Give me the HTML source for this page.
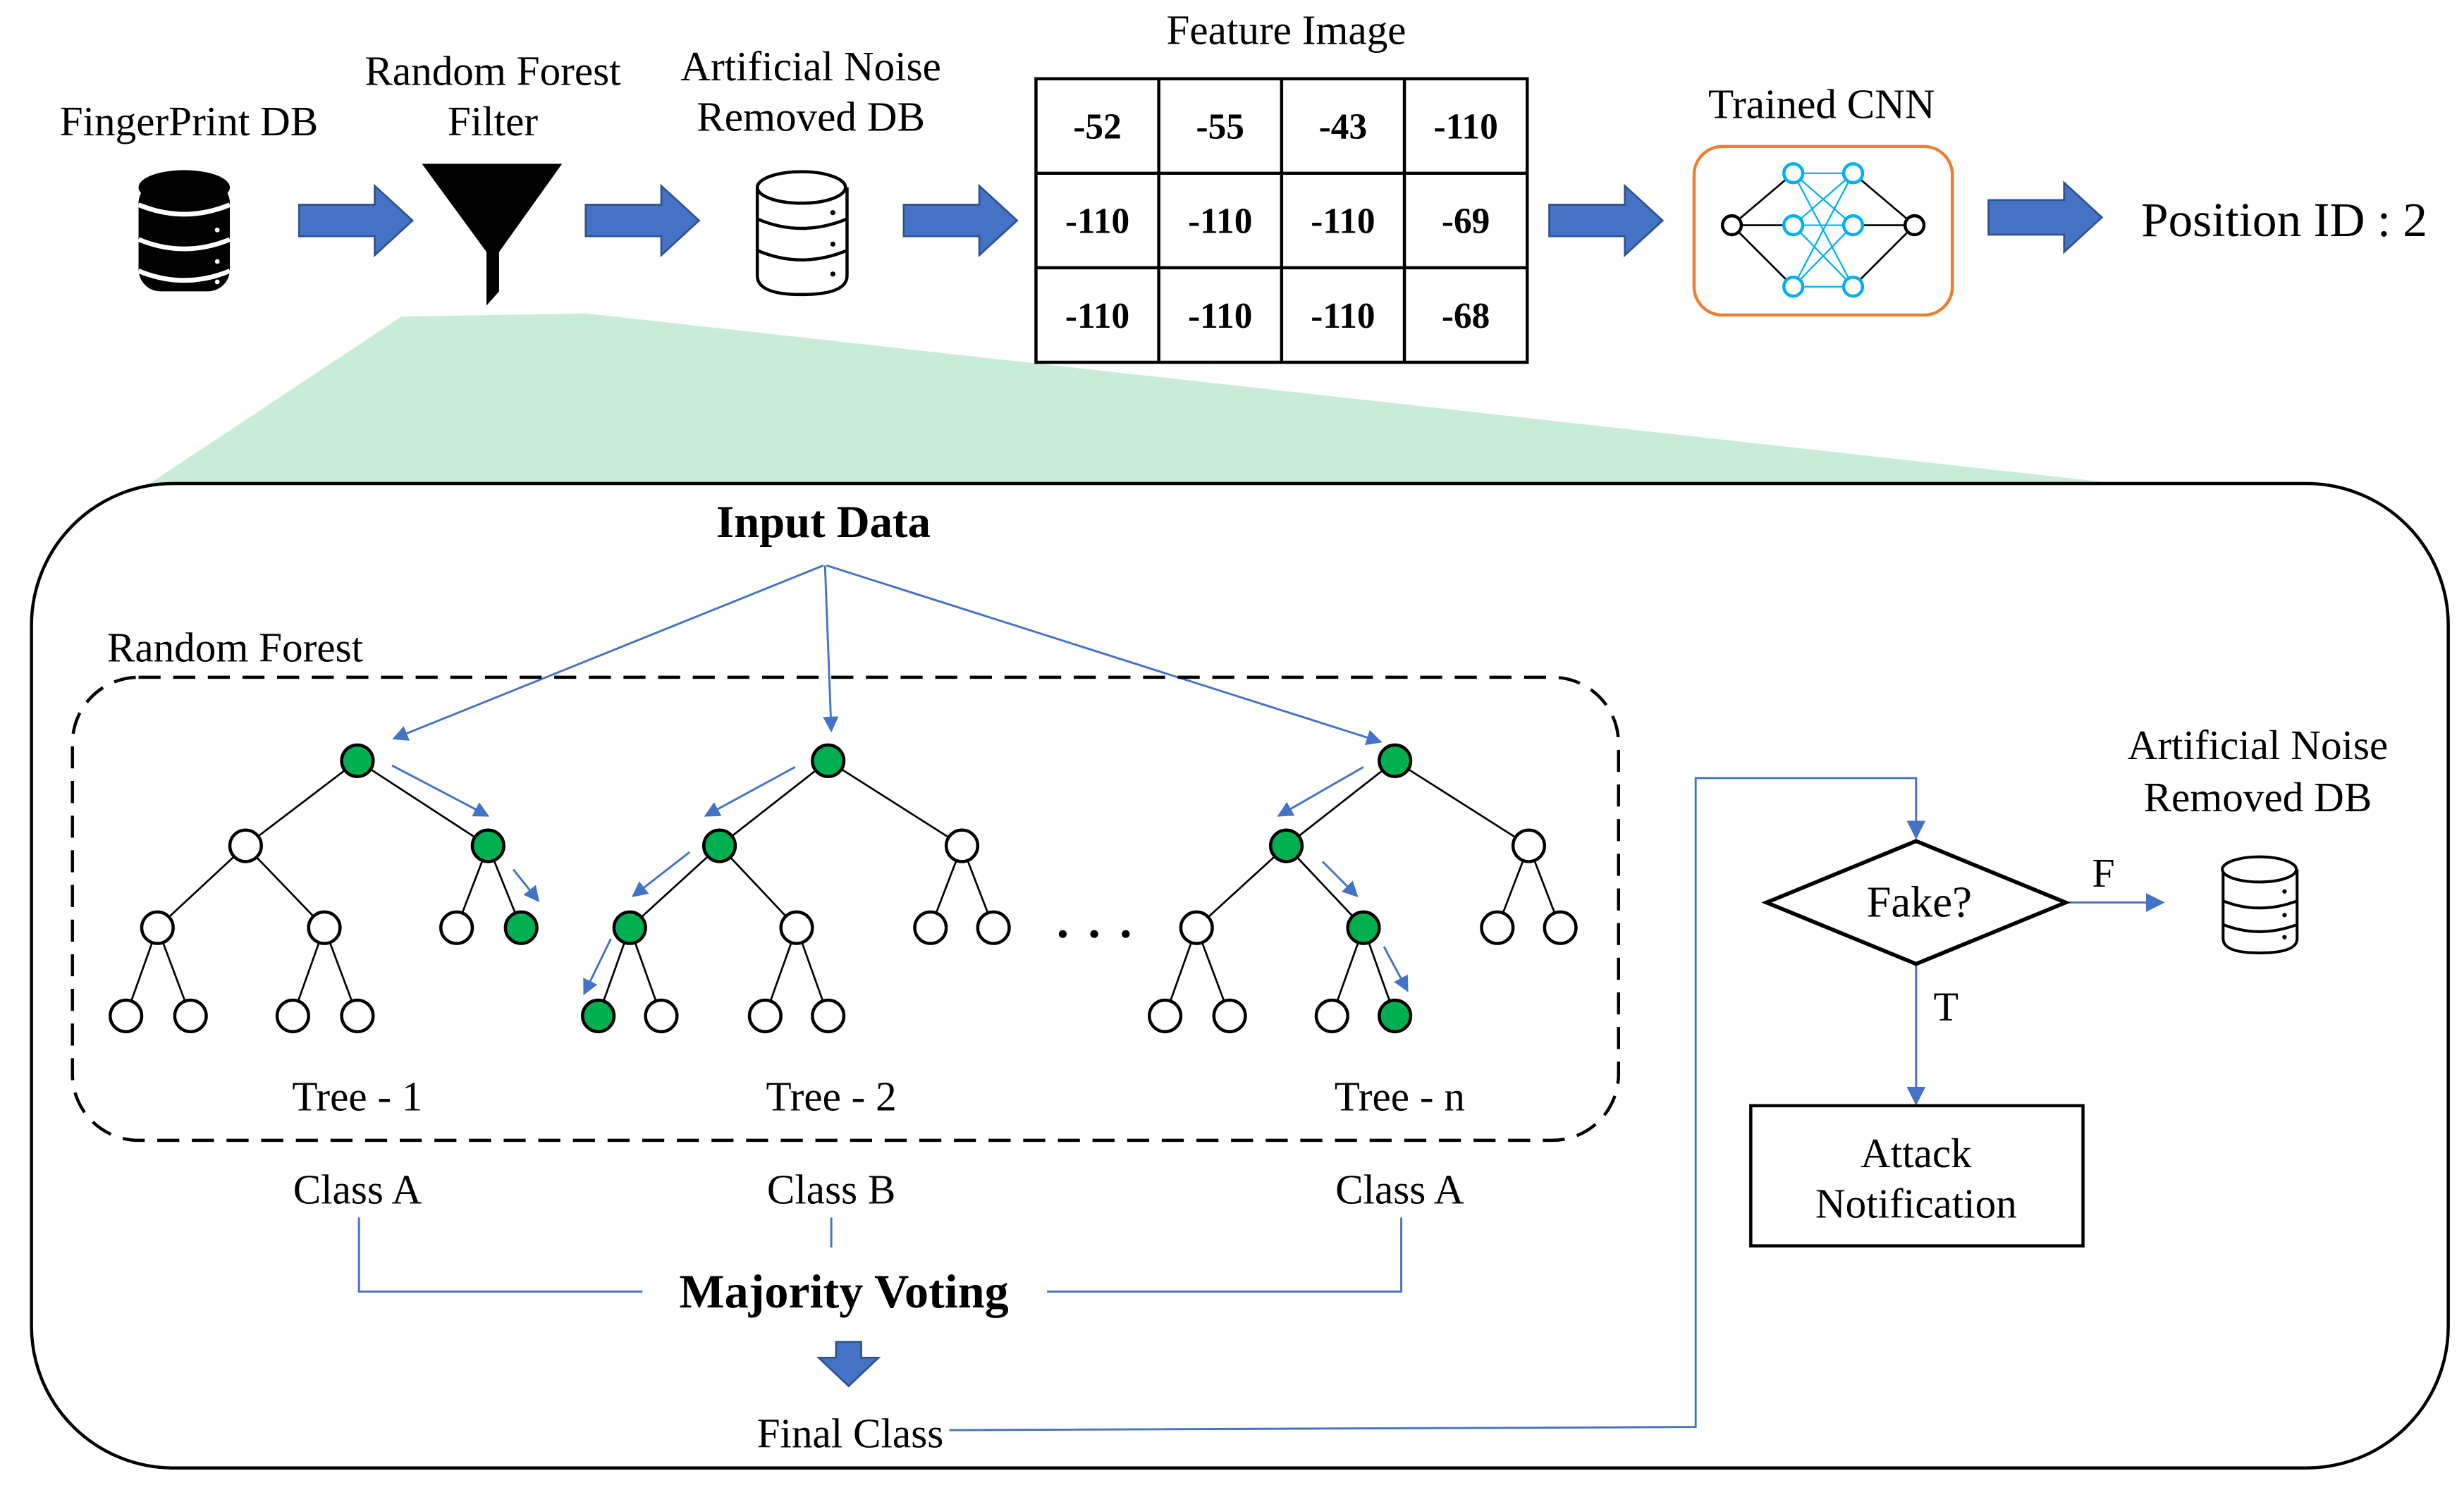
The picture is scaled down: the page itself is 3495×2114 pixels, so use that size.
<!DOCTYPE html>
<html><head><meta charset="utf-8"><style>html,body{margin:0;padding:0;background:#fff}svg{display:block}svg text{font-family:"Liberation Serif",serif}</style></head>
<body>
<svg width="3495" height="2114" viewBox="0 0 1565 946" preserveAspectRatio="none" xmlns="http://www.w3.org/2000/svg">
<defs>
<marker id="ah" markerWidth="10" markerHeight="10" refX="9" refY="5" orient="auto" markerUnits="userSpaceOnUse"><path d="M0,0 L10,5 L0,10 z" fill="#4472c4"/></marker>
<marker id="ah2" markerWidth="12" markerHeight="12" refX="11" refY="6" orient="auto" markerUnits="userSpaceOnUse"><path d="M0,0 L12,6 L0,12 z" fill="#4472c4"/></marker>
</defs>
<polygon points="255,201 372,199 1345,307 95,307" fill="#c9ecd9"/>
<rect x="20" y="307" width="1535" height="625" rx="90" fill="#fff" stroke="#000" stroke-width="2"/>

<g font-size="26.5" text-anchor="middle" fill="#000">
<text x="120" y="86">FingerPrint DB</text>
<text x="313" y="54">Random Forest</text>
<text x="313" y="86">Filter</text>
<text x="515" y="51">Artificial Noise</text>
<text x="515" y="83">Removed DB</text>
<text x="817" y="28">Feature Image</text>
<text x="1157" y="75">Trained CNN</text>
</g>
<text x="1360" y="150" font-size="31">Position ID : 2</text>

<g>
<rect x="88" y="115" width="58" height="70" rx="14" fill="#000"/>
<ellipse cx="117" cy="119" rx="29" ry="11" fill="#000"/>
<path d="M88,130 Q117,142 146,130" stroke="#fff" stroke-width="3" fill="none"/>
<path d="M88,152 Q117,164 146,152" stroke="#fff" stroke-width="3" fill="none"/>
<path d="M88,172 Q117,184 146,172" stroke="#fff" stroke-width="3" fill="none"/>
<circle cx="138" cy="146" r="1.5" fill="#fff"/><circle cx="138" cy="166" r="1.5" fill="#fff"/><circle cx="138" cy="179" r="1.5" fill="#fff"/>
</g>
<polygon points="268,104 357,104 317,160 317,185 309,194 309,160" fill="#000"/>
<g fill="none" stroke="#000" stroke-width="2">
<path d="M481,119 L481,175 Q481,187 509,187 Q538,187 538,175 L538,119"/>
<ellipse cx="509" cy="119" rx="28" ry="10" fill="#fff"/>
<path d="M481,139 Q509,151 538,139"/>
<path d="M481,159 Q509,171 538,159"/>
</g>
<circle cx="529" cy="135" r="1.6"/><circle cx="529" cy="155" r="1.6"/><circle cx="529" cy="174" r="1.6"/>

<g fill="#4472c4" stroke="#2f528f" stroke-width="1.2">
<path d="M190,130 H238 V118 L262,140 L238,162 V150 H190 Z"/>
<path d="M372,130 H420 V118 L444,140 L420,162 V150 H372 Z"/>
<path d="M574,130 H622 V118 L646,140 L622,162 V150 H574 Z"/>
<path d="M984,130 H1032 V118 L1056,140 L1032,162 V150 H984 Z"/>
<path d="M1263,127 H1311 V116 L1335,138 L1311,160 V149 H1263 Z"/>
<path d="M531,852 H547 V862 H558 L539,880 L520,862 H531 Z"/>
</g>

<g stroke="#000" stroke-width="2" fill="none">
<rect x="658" y="50" width="312" height="180"/>
<line x1="736" y1="50" x2="736" y2="230"/><line x1="814" y1="50" x2="814" y2="230"/><line x1="892" y1="50" x2="892" y2="230"/>
<line x1="658" y1="110" x2="970" y2="110"/><line x1="658" y1="170" x2="970" y2="170"/>
</g>
<g font-size="23" font-weight="bold" text-anchor="middle">
<text x="697" y="88">-52</text><text x="775" y="88">-55</text><text x="853" y="88">-43</text><text x="931" y="88">-110</text>
<text x="697" y="148">-110</text><text x="775" y="148">-110</text><text x="853" y="148">-110</text><text x="931" y="148">-69</text>
<text x="697" y="208">-110</text><text x="775" y="208">-110</text><text x="853" y="208">-110</text><text x="931" y="208">-68</text>
</g>

<rect x="1076" y="93" width="164" height="107" rx="18" fill="#fff" stroke="#ed7d31" stroke-width="2"/>
<g stroke="#000" stroke-width="1.2">
<line x1="1100" y1="143" x2="1139" y2="110"/><line x1="1100" y1="143" x2="1139" y2="143"/><line x1="1100" y1="143" x2="1139" y2="182"/>
<line x1="1177" y1="110" x2="1216" y2="143"/><line x1="1177" y1="143" x2="1216" y2="143"/><line x1="1177" y1="182" x2="1216" y2="143"/>
</g>
<g stroke="#00b0f0" stroke-width="1">
<line x1="1139" y1="110" x2="1177" y2="110"/><line x1="1139" y1="110" x2="1177" y2="143"/><line x1="1139" y1="110" x2="1177" y2="182"/>
<line x1="1139" y1="143" x2="1177" y2="110"/><line x1="1139" y1="143" x2="1177" y2="143"/><line x1="1139" y1="143" x2="1177" y2="182"/>
<line x1="1139" y1="182" x2="1177" y2="110"/><line x1="1139" y1="182" x2="1177" y2="143"/><line x1="1139" y1="182" x2="1177" y2="182"/>
</g>
<g fill="#fff" stroke-width="2">
<circle cx="1100" cy="143" r="6" stroke="#000"/><circle cx="1216" cy="143" r="6" stroke="#000"/>
<circle cx="1139" cy="110" r="6" stroke="#00b0f0"/><circle cx="1139" cy="143" r="6" stroke="#00b0f0"/><circle cx="1139" cy="182" r="6" stroke="#00b0f0"/>
<circle cx="1177" cy="110" r="6" stroke="#00b0f0"/><circle cx="1177" cy="143" r="6" stroke="#00b0f0"/><circle cx="1177" cy="182" r="6" stroke="#00b0f0"/>
</g>

<text x="523" y="341" font-size="29" font-weight="bold" text-anchor="middle">Input Data</text>
<g stroke="#4472c4" stroke-width="1.3" fill="none">
<line x1="523" y1="359" x2="250" y2="469" marker-end="url(#ah)"/>
<line x1="524" y1="359" x2="528" y2="464" marker-end="url(#ah)"/>
<line x1="525" y1="359" x2="877" y2="471" marker-end="url(#ah)"/>
</g>
<text x="68" y="420" font-size="26.5">Random Forest</text>
<rect x="46" y="430" width="982" height="294" rx="42" fill="none" stroke="#000" stroke-width="2" stroke-dasharray="14,8"/>

<g stroke="#000" stroke-width="1.2">
<line x1="227" y1="483" x2="156" y2="537"/><line x1="227" y1="483" x2="310" y2="537"/>
<line x1="156" y1="537" x2="100" y2="589"/><line x1="156" y1="537" x2="206" y2="589"/>
<line x1="310" y1="537" x2="290" y2="589"/><line x1="310" y1="537" x2="331" y2="589"/>
<line x1="100" y1="589" x2="80" y2="645"/><line x1="100" y1="589" x2="121" y2="645"/>
<line x1="206" y1="589" x2="186" y2="645"/><line x1="206" y1="589" x2="227" y2="645"/>
<line x1="526" y1="483" x2="457" y2="537"/><line x1="526" y1="483" x2="611" y2="537"/>
<line x1="457" y1="537" x2="400" y2="589"/><line x1="457" y1="537" x2="506" y2="589"/>
<line x1="611" y1="537" x2="591" y2="589"/><line x1="611" y1="537" x2="631" y2="589"/>
<line x1="400" y1="589" x2="380" y2="645"/><line x1="400" y1="589" x2="420" y2="645"/>
<line x1="506" y1="589" x2="486" y2="645"/><line x1="506" y1="589" x2="526" y2="645"/>
<line x1="886" y1="483" x2="817" y2="537"/><line x1="886" y1="483" x2="971" y2="537"/>
<line x1="817" y1="537" x2="760" y2="589"/><line x1="817" y1="537" x2="866" y2="589"/>
<line x1="971" y1="537" x2="951" y2="589"/><line x1="971" y1="537" x2="991" y2="589"/>
<line x1="760" y1="589" x2="740" y2="645"/><line x1="760" y1="589" x2="781" y2="645"/>
<line x1="866" y1="589" x2="846" y2="645"/><line x1="866" y1="589" x2="886" y2="645"/>
</g>
<g stroke="#000" stroke-width="2" fill="#fff">
<circle cx="227" cy="483" r="10" fill="#00b050"/><circle cx="156" cy="537" r="10"/><circle cx="310" cy="537" r="10" fill="#00b050"/>
<circle cx="100" cy="589" r="10"/><circle cx="206" cy="589" r="10"/><circle cx="290" cy="589" r="10"/><circle cx="331" cy="589" r="10" fill="#00b050"/>
<circle cx="80" cy="645" r="10"/><circle cx="121" cy="645" r="10"/><circle cx="186" cy="645" r="10"/><circle cx="227" cy="645" r="10"/>
<circle cx="526" cy="483" r="10" fill="#00b050"/><circle cx="457" cy="537" r="10" fill="#00b050"/><circle cx="611" cy="537" r="10"/>
<circle cx="400" cy="589" r="10" fill="#00b050"/><circle cx="506" cy="589" r="10"/><circle cx="591" cy="589" r="10"/><circle cx="631" cy="589" r="10"/>
<circle cx="380" cy="645" r="10" fill="#00b050"/><circle cx="420" cy="645" r="10"/><circle cx="486" cy="645" r="10"/><circle cx="526" cy="645" r="10"/>
<circle cx="886" cy="483" r="10" fill="#00b050"/><circle cx="817" cy="537" r="10" fill="#00b050"/><circle cx="971" cy="537" r="10"/>
<circle cx="760" cy="589" r="10"/><circle cx="866" cy="589" r="10" fill="#00b050"/><circle cx="951" cy="589" r="10"/><circle cx="991" cy="589" r="10"/>
<circle cx="740" cy="645" r="10"/><circle cx="781" cy="645" r="10"/><circle cx="846" cy="645" r="10"/><circle cx="886" cy="645" r="10" fill="#00b050"/>
</g>
<g fill="#000"><circle cx="675" cy="593" r="2.5"/><circle cx="695" cy="593" r="2.5"/><circle cx="715" cy="593" r="2.5"/></g>
<g stroke="#4472c4" stroke-width="1.3" fill="none">
<line x1="249" y1="486" x2="310" y2="518" marker-end="url(#ah)"/>
<line x1="326" y1="552" x2="342" y2="572" marker-end="url(#ah)"/>
<line x1="505" y1="487" x2="448" y2="518" marker-end="url(#ah)"/>
<line x1="438" y1="541" x2="402" y2="569" marker-end="url(#ah)"/>
<line x1="388" y1="596" x2="371" y2="631" marker-end="url(#ah)"/>
<line x1="866" y1="487" x2="812" y2="518" marker-end="url(#ah)"/>
<line x1="840" y1="547" x2="862" y2="569" marker-end="url(#ah)"/>
<line x1="879" y1="601" x2="894" y2="629" marker-end="url(#ah)"/>
</g>

<g font-size="26.5" text-anchor="middle">
<text x="227" y="705">Tree - 1</text><text x="528" y="705">Tree - 2</text><text x="889" y="705">Tree - n</text>
<text x="227" y="764">Class A</text><text x="528" y="764">Class B</text><text x="889" y="764">Class A</text>
<text x="540" y="919">Final Class</text>
</g>
<text x="536" y="830" font-size="30.5" font-weight="bold" text-anchor="middle">Majority Voting</text>
<g stroke="#4472c4" stroke-width="1.3" fill="none">
<polyline points="228,773 228,820 408,820"/>
<line x1="528" y1="773" x2="528" y2="792"/>
<polyline points="890,773 890,820 665,820"/>
<polyline points="603,908 1077,906 1077,494 1217,494 1217,532" marker-end="url(#ah2)"/>
<line x1="1312" y1="573" x2="1374" y2="573" marker-end="url(#ah2)"/>
<line x1="1217" y1="612" x2="1217" y2="701" marker-end="url(#ah2)"/>
</g>

<polygon points="1122,573 1217,534 1312,573 1217,612" fill="#fff" stroke="#000" stroke-width="2.5"/>
<text x="1219" y="582" font-size="28" text-anchor="middle">Fake?</text>
<text x="1336" y="563" font-size="26" text-anchor="middle">F</text>
<text x="1236" y="648" font-size="26" text-anchor="middle">T</text>
<rect x="1112" y="702" width="211" height="89" fill="#fff" stroke="#000" stroke-width="2"/>
<g font-size="26.5" text-anchor="middle">
<text x="1217" y="741">Attack</text><text x="1217" y="773">Notification</text>
<text x="1434" y="482">Artificial Noise</text><text x="1434" y="515">Removed DB</text>
</g>
<g fill="none" stroke="#000" stroke-width="1.8">
<path d="M1412,552 L1412,596 Q1412,605 1435,605 Q1459,605 1459,596 L1459,552"/>
<ellipse cx="1435" cy="552" rx="23.5" ry="8" fill="#fff"/>
<path d="M1412,572 Q1435,581 1459,572"/>
<path d="M1412,587 Q1435,596 1459,587"/>
</g>
<circle cx="1451" cy="566" r="1.4"/><circle cx="1451" cy="581" r="1.4"/><circle cx="1451" cy="595" r="1.4"/>
</svg>
</body></html>
